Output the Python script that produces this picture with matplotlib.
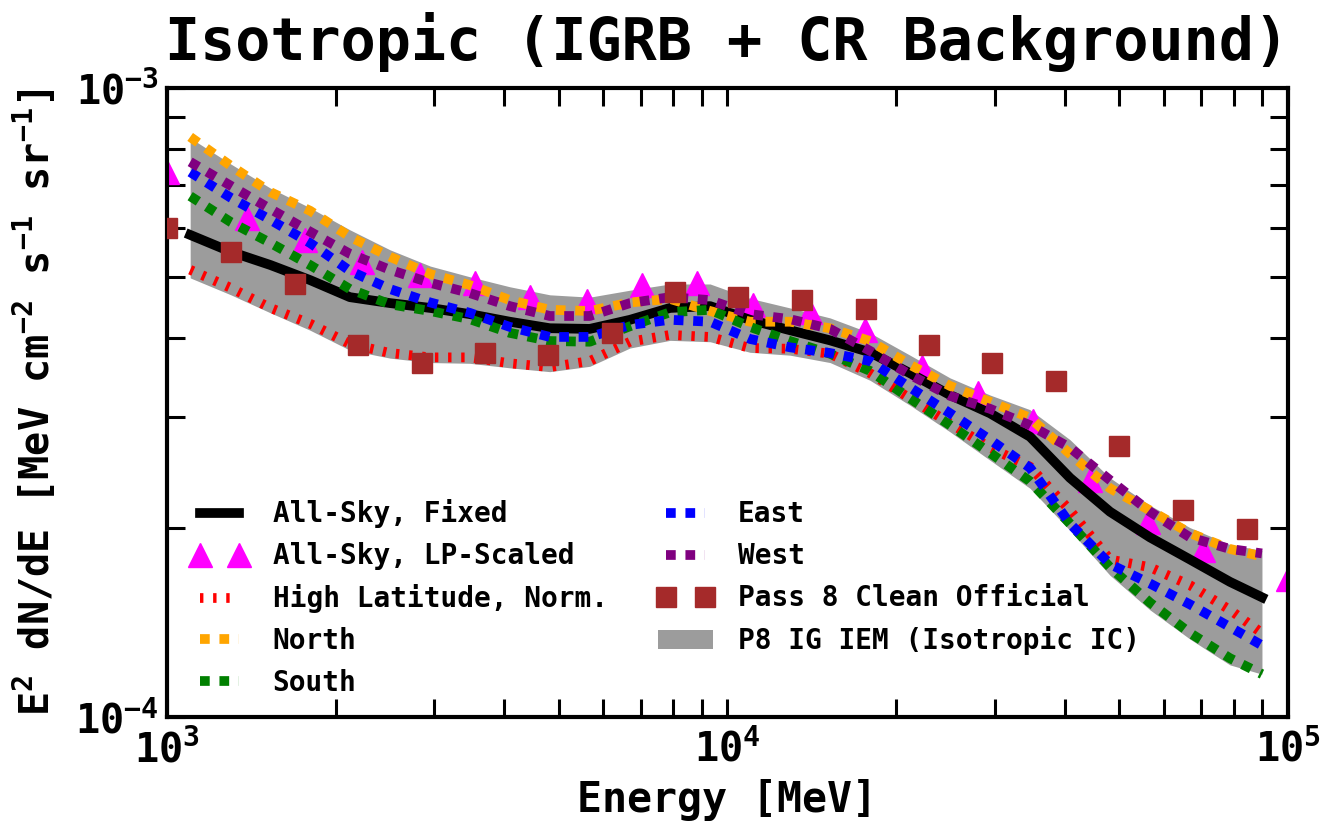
import numpy as np
import matplotlib
matplotlib.use("Agg")
import matplotlib.pyplot as plt
from matplotlib.ticker import NullFormatter, LogLocator

# energies (MeV) of the model curves
energy = [1100, 1300, 1530, 1800, 2120, 2500, 2950, 3470, 4090, 4820, 5680, 6700,
          7900, 9310, 10970, 12930, 15240, 17960, 21170, 24950, 29400, 34650,
          40830, 48130, 56730, 66860, 78790, 89860]

# E^2 dN/dE in units of 1e-4 MeV cm^-2 s^-1 sr^-1
all_sky_fixed = [5.84, 5.49, 5.23, 4.95, 4.65, 4.55, 4.47, 4.37, 4.25, 4.15, 4.14, 4.28,
                 4.47, 4.50, 4.28, 4.12, 3.97, 3.80, 3.52, 3.25, 3.04, 2.79,
                 2.40, 2.12, 1.93, 1.78, 1.64, 1.55]
high_lat = [5.14, 4.81, 4.47, 4.22, 3.92, 3.79, 3.73, 3.73, 3.65, 3.60, 3.68, 3.95,
            4.05, 4.02, 3.86, 3.85, 3.78, 3.52, 3.21, 2.93, 2.68, 2.50,
            2.13, 1.78, 1.73, 1.62, 1.48, 1.36]
north = [8.36, 7.52, 6.83, 6.38, 5.80, 5.39, 5.06, 4.86, 4.60, 4.44, 4.42, 4.56,
         4.62, 4.42, 4.25, 4.25, 4.15, 3.96, 3.63, 3.36, 3.17, 2.99,
         2.62, 2.31, 2.13, 1.96, 1.85, 1.80]
south = [6.73, 6.12, 5.67, 5.23, 4.79, 4.53, 4.42, 4.29, 4.08, 3.96, 3.95, 4.18,
         4.40, 4.44, 4.17, 3.96, 3.78, 3.55, 3.21, 2.91, 2.63, 2.37,
         2.03, 1.73, 1.52, 1.36, 1.24, 1.17]
east = [7.35, 6.69, 6.17, 5.67, 5.12, 4.79, 4.56, 4.39, 4.17, 4.02, 4.02, 4.20,
        4.28, 4.25, 3.99, 3.87, 3.79, 3.68, 3.34, 3.04, 2.76, 2.49,
        2.03, 1.75, 1.63, 1.51, 1.39, 1.30]
west = [7.63, 6.99, 6.42, 5.91, 5.45, 5.14, 4.90, 4.72, 4.50, 4.34, 4.34, 4.55,
        4.65, 4.60, 4.37, 4.29, 4.14, 3.82, 3.50, 3.24, 3.09, 2.91,
        2.68, 2.38, 2.12, 1.93, 1.85, 1.82]
iem_high = [8.33, 7.57, 6.93, 6.45, 5.95, 5.53, 5.21, 5.01, 4.83, 4.69, 4.65, 4.77,
            4.88, 4.88, 4.63, 4.47, 4.31, 4.08, 3.76, 3.46, 3.25, 3.08,
            2.76, 2.40, 2.17, 2.00, 1.88, 1.84]
iem_low = [4.99, 4.69, 4.39, 4.12, 3.83, 3.72, 3.66, 3.65, 3.59, 3.54, 3.61, 3.86,
           3.97, 3.95, 3.80, 3.76, 3.66, 3.43, 3.13, 2.84, 2.56, 2.31,
           1.98, 1.68, 1.48, 1.33, 1.21, 1.17]

# LP-scaled all-sky points
energy_lp = [1000, 1390, 1760, 2230, 2830, 3550, 4450, 5610, 7030, 8830, 11120,
             14030, 17580, 22230, 27990, 35080, 44360, 56230, 70470, 100000]
all_sky_lp = [7.35, 6.21, 5.73, 5.29, 5.04, 4.90, 4.65, 4.58, 4.86, 4.90, 4.52,
              4.40, 4.12, 3.60, 3.27, 2.95, 2.38, 2.04, 1.84, 1.66]

# Pass 8 clean official isotropic template
energy_p8 = [1000, 1300, 1690, 2190, 2850, 3690, 4790, 6220, 8050, 10450, 13580,
             17650, 22900, 29660, 38540, 49890, 64980, 84520]
pass8_clean = [5.99, 5.49, 4.88, 3.90, 3.65, 3.79, 3.76, 4.08, 4.74, 4.65, 4.60,
               4.45, 3.90, 3.66, 3.42, 2.70, 2.13, 1.99]

UNIT = 1e-4

plt.rcParams.update({
    "font.family": "DejaVu Sans Mono",
    "font.weight": "bold",
    "axes.titleweight": "bold",
    "axes.labelweight": "bold",
    "mathtext.fontset": "custom",
    "mathtext.rm": "DejaVu Sans Mono:bold",
    "mathtext.it": "DejaVu Sans Mono:bold",
    "mathtext.bf": "DejaVu Sans Mono:bold",
    "mathtext.default": "rm",
    "axes.unicode_minus": False,
})

fig = plt.figure(figsize=(13.39, 8.23), dpi=100)
ax = fig.add_axes([0.1247, 0.1288, 0.8372, 0.7643])

E = np.array(energy)
band = ax.fill_between(E, np.array(iem_low) * UNIT, np.array(iem_high) * UNIT,
                       color="#9c9c9c", lw=0, zorder=1,
                       label="P8 IG IEM (Isotropic IC)")
tri, = ax.plot(energy_lp, np.array(all_sky_lp) * UNIT, ls="none", marker="^",
               ms=17, color="magenta", zorder=2, label="All-Sky, LP-Scaled")
fixed, = ax.plot(E, np.array(all_sky_fixed) * UNIT, color="black", lw=7,
                 zorder=3, label="All-Sky, Fixed")

dots = (0, (1, 1))
hl, = ax.plot(E, np.array(high_lat) * UNIT, color="red", lw=7,
              ls=(0, (0.35, 1.0)), zorder=4, label="High Latitude, Norm.")
no, = ax.plot(E, np.array(north) * UNIT, color="orange", lw=7, ls=dots,
              zorder=4, label="North")
so, = ax.plot(E, np.array(south) * UNIT, color="green", lw=7, ls=dots,
              zorder=4, label="South")
ea, = ax.plot(E, np.array(east) * UNIT, color="blue", lw=7, ls=dots,
              zorder=4, label="East")
we, = ax.plot(E, np.array(west) * UNIT, color="purple", lw=7, ls=dots,
              zorder=4, label="West")
p8, = ax.plot(energy_p8, np.array(pass8_clean) * UNIT, ls="none", marker="s",
              ms=15, color="#a52a2a", zorder=6, label="Pass 8 Clean Official")

ax.set_xscale("log")
ax.set_yscale("log")
ax.set_xlim(1e3, 1e5)
ax.set_ylim(1e-4, 1e-3)

ax.xaxis.set_minor_locator(LogLocator(base=10, subs=np.arange(2, 10)))
ax.yaxis.set_minor_locator(LogLocator(base=10, subs=np.arange(2, 10)))
ax.xaxis.set_minor_formatter(NullFormatter())
ax.yaxis.set_minor_formatter(NullFormatter())

ax.tick_params(which="both", direction="in", top=True, right=True,
               length=13, width=2.2)
ax.tick_params(axis="x", which="major", labelsize=29, pad=9)
ax.tick_params(axis="y", which="major", labelsize=29, pad=6)
for sp in ax.spines.values():
    sp.set_linewidth(3)

ax.set_xlabel("Energy [MeV]", fontsize=30, labelpad=6)
ax.set_ylabel("E$^{2}$ dN/dE [MeV cm$^{-2}$ s$^{-1}$ sr$^{-1}$]",
              fontsize=29, labelpad=12)
ax.set_title("Isotropic (IGRB + CR Background)", fontsize=42, pad=20)

handles = [fixed, tri, hl, no, so, ea, we, p8, band]
ax.legend(handles=handles, ncol=2, frameon=False, loc="lower left",
          bbox_to_anchor=(0.0, -0.008), fontsize=20, handlelength=2.0,
          handletextpad=0.9, columnspacing=1.8, labelspacing=0.5,
          numpoints=2)

fig.savefig("out.png", dpi=100)
